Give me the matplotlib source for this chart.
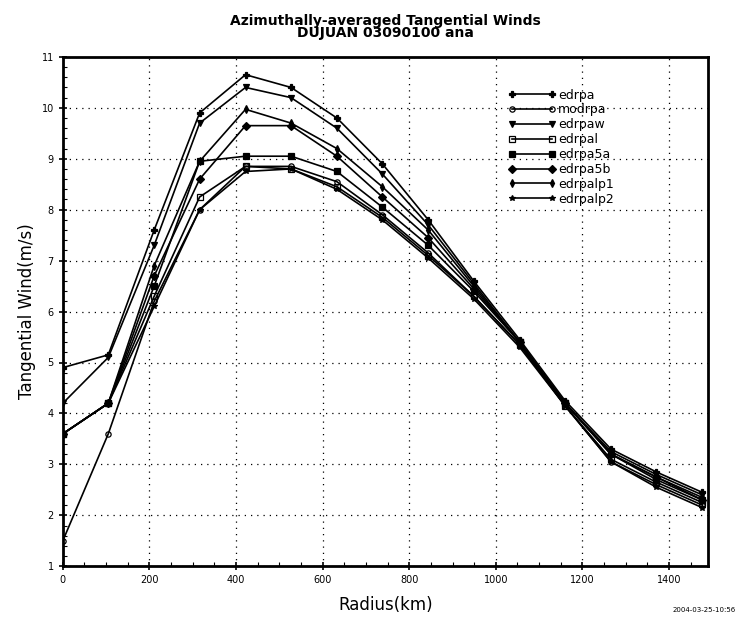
import matplotlib
matplotlib.use("Agg")
import matplotlib.pyplot as plt
from matplotlib.ticker import MultipleLocator

# радиусы (км) и профили тангенциального ветра (м/с)
radius = [0, 105, 211, 316, 422, 527, 633, 738, 844, 949, 1055, 1160, 1266, 1371, 1477]

names = ["edrpa", "modrpa", "edrpaw", "edrpal", "edrpa5a", "edrpa5b", "edrpalp1", "edrpalp2"]

edrpa    = [4.9, 5.15, 7.6, 9.9, 10.65, 10.4, 9.8, 8.9, 7.8, 6.6, 5.45, 4.25, 3.3, 2.85, 2.45]
modrpa   = [1.5, 3.6, 6.2, 8.0, 8.85, 8.85, 8.55, 7.9, 7.15, 6.3, 5.35, 4.15, 3.05, 2.6, 2.2]
edrpaw   = [4.2, 5.1, 7.3, 9.7, 10.4, 10.2, 9.6, 8.7, 7.7, 6.55, 5.4, 4.2, 3.25, 2.8, 2.4]
edrpal   = [3.6, 4.2, 6.3, 8.25, 8.85, 8.8, 8.45, 7.85, 7.1, 6.3, 5.35, 4.15, 3.1, 2.65, 2.25]
edrpa5a  = [3.6, 4.2, 6.5, 8.95, 9.05, 9.05, 8.75, 8.05, 7.3, 6.4, 5.4, 4.2, 3.2, 2.7, 2.3]
edrpa5b  = [3.6, 4.2, 6.7, 8.6, 9.65, 9.65, 9.05, 8.25, 7.45, 6.45, 5.4, 4.2, 3.2, 2.75, 2.3]
edrpalp1 = [3.6, 4.2, 6.9, 8.95, 9.97, 9.7, 9.2, 8.45, 7.6, 6.5, 5.4, 4.2, 3.2, 2.75, 2.35]
edrpalp2 = [3.6, 4.2, 6.1, 8.0, 8.75, 8.8, 8.4, 7.8, 7.05, 6.25, 5.3, 4.15, 3.05, 2.55, 2.15]

series = [edrpa, modrpa, edrpaw, edrpal, edrpa5a, edrpa5b, edrpalp1, edrpalp2]
markers = ["P", "o", "v", "s", "s", "D", "d", "*"]
fills = ["full", "none", "full", "none", "full", "full", "full", "full"]

fig = plt.figure(figsize=(7.39, 6.25), dpi=100)
ax = fig.add_axes([0.085, 0.094, 0.873, 0.815])

for name, vals, m, f in zip(names, series, markers, fills):
    ax.plot(radius, vals, color="black", lw=1.2, marker=m, ms=3.8,
            fillstyle=f, mew=0.9, label=name)

ax.set_xlim(0, 1490)
ax.set_ylim(1, 11)
ax.xaxis.set_major_locator(MultipleLocator(200))
ax.xaxis.set_minor_locator(MultipleLocator(50))
ax.yaxis.set_major_locator(MultipleLocator(1))
ax.yaxis.set_minor_locator(MultipleLocator(0.2))
ax.tick_params(which="major", direction="inout", length=6, width=1.2, labelsize=7)
ax.tick_params(which="minor", direction="in", length=3, width=0.8)
for s in ax.spines.values():
    s.set_linewidth(2)

ax.grid(True, which="major", color="black", ls=(0, (1, 4)), lw=0.9)

ax.set_xlabel("Radius(km)", fontsize=12, labelpad=8)
ax.set_ylabel("Tangential Wind(m/s)", fontsize=12, labelpad=4)
ax.set_title("Azimuthally-averaged Tangential Winds\nDUJUAN 03090100 ana",
             fontsize=10, fontweight="bold", linespacing=0.9, pad=14)

ax.legend(loc="upper left", bbox_to_anchor=(0.68, 0.95), frameon=False,
          numpoints=2, handlelength=3.8, fontsize=9, labelspacing=0.15,
          handletextpad=0.2, borderpad=0)

fig.text(0.995, 0.02, "2004-03-25-10:56", ha="right", va="bottom", fontsize=5)

fig.savefig("out.png", dpi=100)
